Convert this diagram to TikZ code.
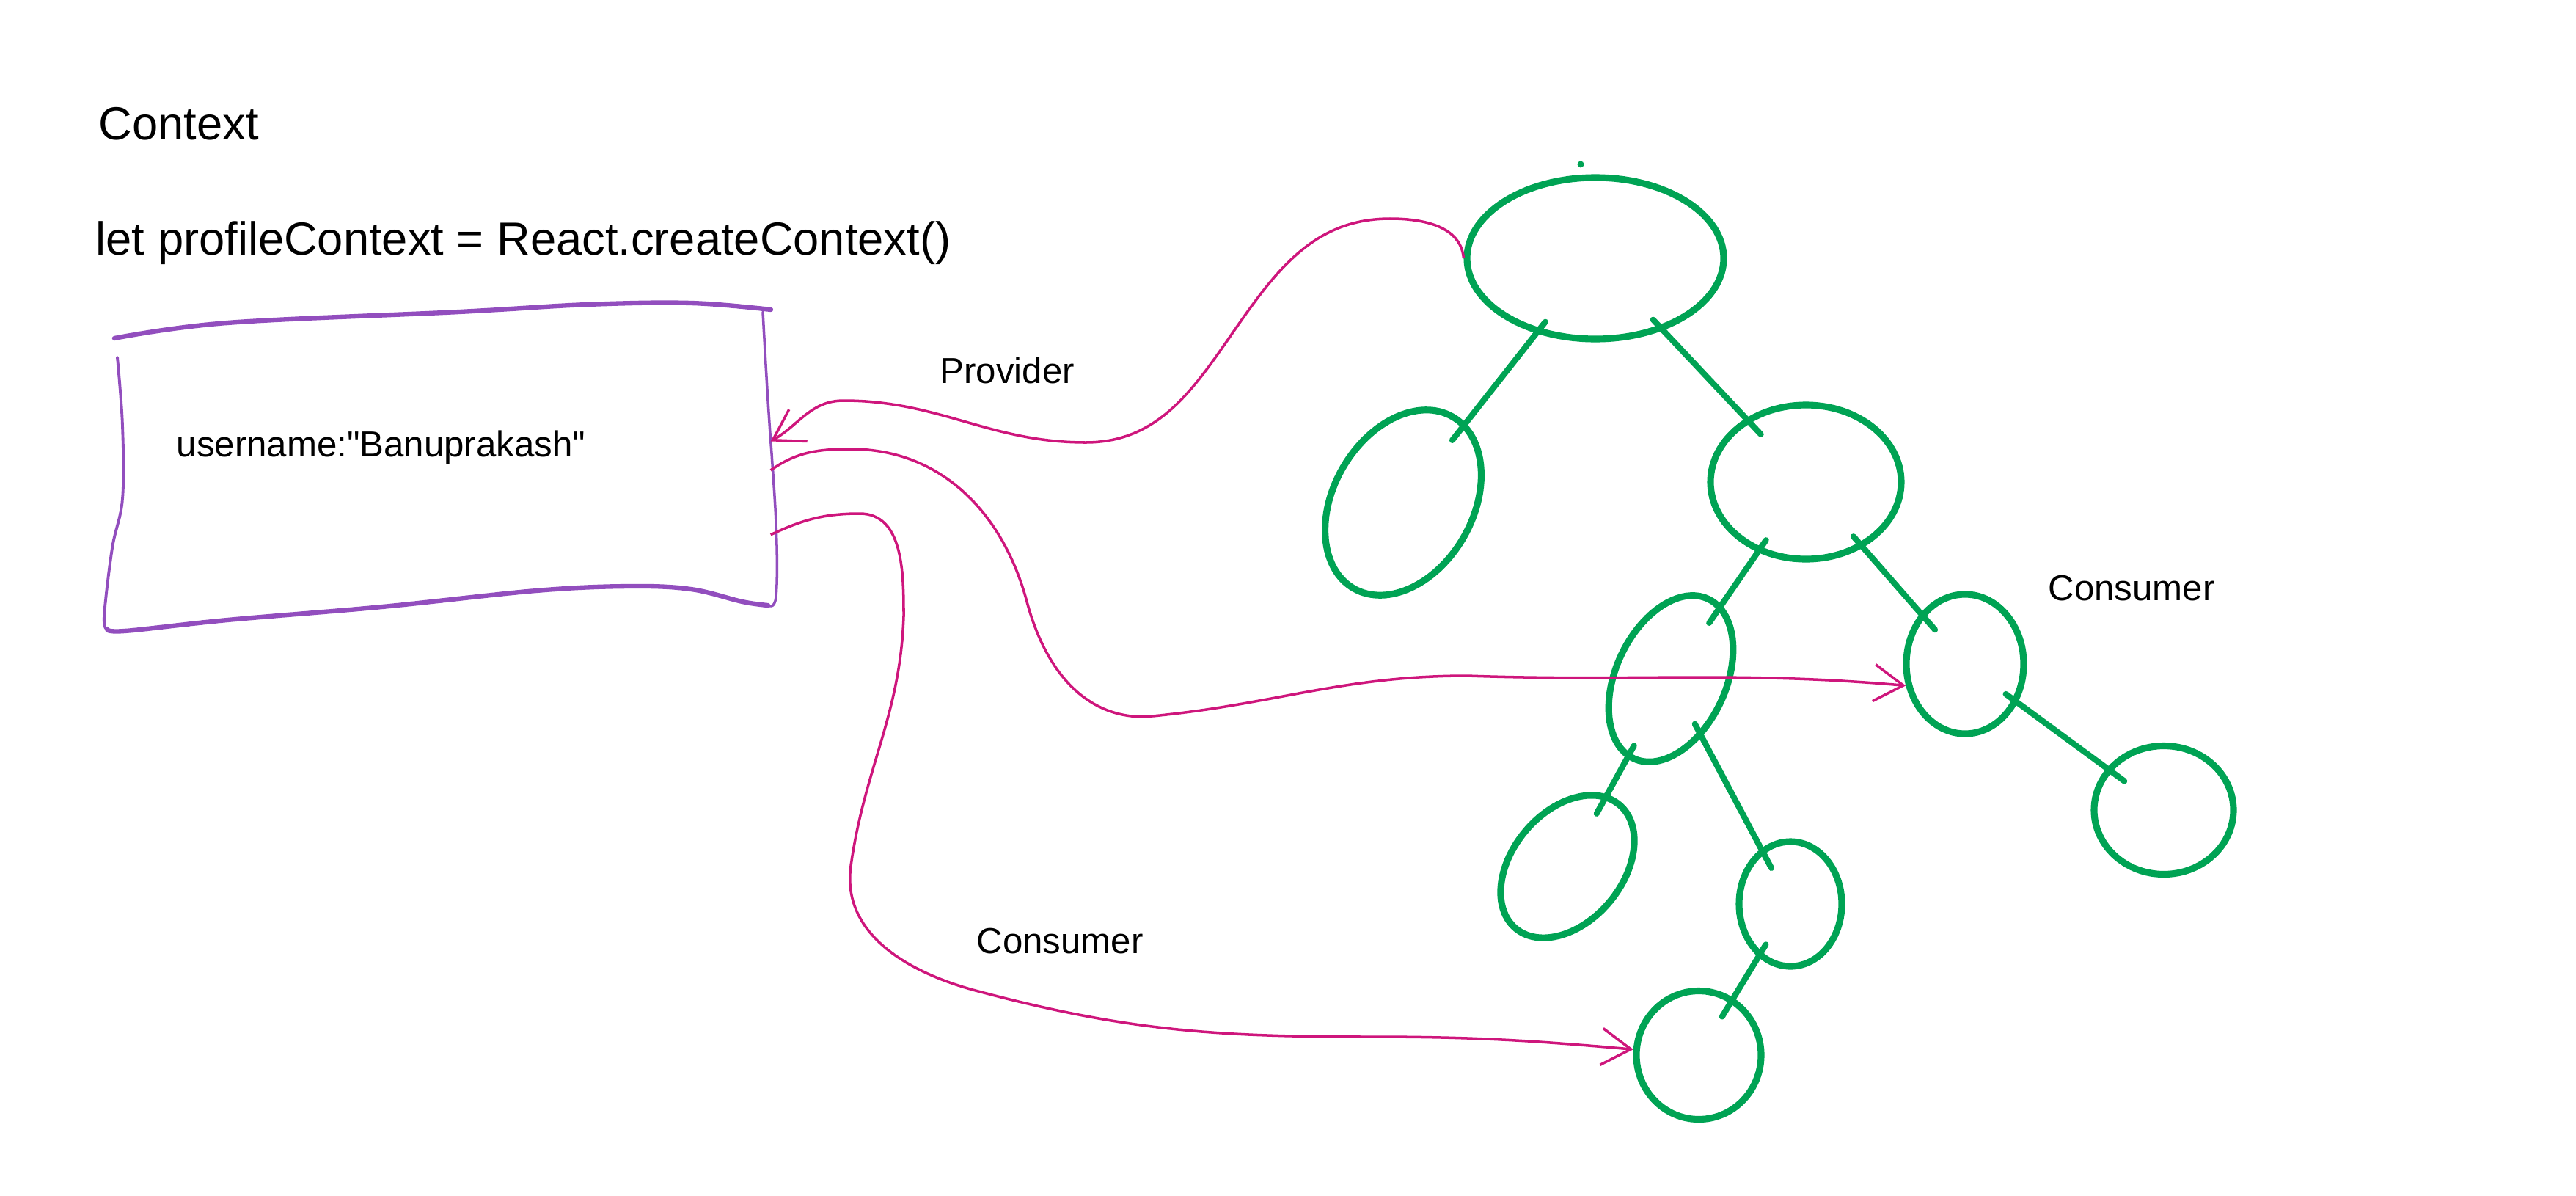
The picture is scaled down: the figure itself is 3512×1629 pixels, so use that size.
\documentclass[tikz,border=0pt]{standalone}
\usepackage{fontspec}
\setmainfont{Liberation Sans}[Ligatures=TeXOff]
\usetikzlibrary{shapes.geometric,arrows.meta}
\definecolor{treegreen}{RGB}{0,163,84}
\definecolor{ctxmagenta}{RGB}{206,22,124}
\definecolor{boxpurple}{RGB}{146,78,190}
\tikzset{
  treenode/.style={ellipse, draw=treegreen, line width=2.6pt, inner sep=0pt},
  treeedge/.style={treegreen, line width=2.3pt, line cap=round, shorten <=-2mm, shorten >=-3mm},
  flowarrow/.style={-{Straight Barb[length=4mm,width=5mm]}, ctxmagenta, line width=1pt},
  sketchlabel/.style={font=\fontsize{14}{16}\selectfont, inner sep=0pt, anchor=base west},
  headlabel/.style={sketchlabel, font=\fontsize{18}{20}\selectfont},
  boxedge/.style={boxpurple, line cap=round, line join=round},
}
\begin{document}
\begin{tikzpicture}[x=0.1mm,y=0.1mm]
  \useasboundingbox (0,0) rectangle (3512,-1629);

  % heading
  \node[headlabel] (title) at (134,-190) {Context};
  \node[headlabel] (decl) at (130,-347) {let profileContext = React.createContext()};

  % context value box
  \node[minimum width=90mm, minimum height=42mm, inner sep=0pt] (store) at (600,-633) {};
  \draw[boxedge, line width=1.8pt] plot[smooth, tension=0.6] coordinates
    {(156,-461) (310,-440) (626,-425) (801,-415) (942,-413) (1051,-422)};
  \draw[boxedge, line width=1pt] plot[smooth, tension=0.6] coordinates
    {(1040,-425) (1047,-547) (1058,-713) (1058,-813) (1047,-825)};
  \draw[boxedge, line width=1.8pt] plot[smooth, tension=0.6] coordinates
    {(1047,-825) (1012,-820) (942,-803) (858,-799) (731,-805) (521,-827) (310,-845) (170,-860) (146,-857)};
  \draw[boxedge, line width=1.1pt] plot[smooth, tension=0.6] coordinates
    {(160,-487) (167,-580) (167,-680) (153,-747) (142,-840) (146,-857)};
  \node[sketchlabel] (uname) at (240,-622) {username:"Banuprakash"};

  % component tree
  \fill[treegreen] (2155,-224) circle[radius=0.45mm];
  \node[treenode, minimum width=35mm, minimum height=22mm] (root) at (2175,-352) {};
  \node[treenode, minimum width=27mm, minimum height=19mm, rotate=60] (lchild) at (1913,-685) {};
  \node[treenode, minimum width=26mm, minimum height=21mm] (rchild) at (2462,-657) {};
  \node[treenode, minimum width=24mm, minimum height=15mm, rotate=65] (rl) at (2278,-925) {};
  \node[treenode, minimum width=16mm, minimum height=19mm] (rr) at (2679,-905) {};
  \node[treenode, minimum width=19mm, minimum height=17.5mm] (rrr) at (2950,-1104) {};
  \node[treenode, minimum width=22mm, minimum height=15mm, rotate=50] (rll) at (2137,-1181) {};
  \node[treenode, minimum width=14mm, minimum height=17mm] (rlr) at (2441,-1232) {};
  \node[treenode, minimum width=17mm, minimum height=17.5mm] (rlrl) at (2316,-1438) {};

  \draw[treeedge] (root) -- (lchild);
  \draw[treeedge] (root) -- (rchild);
  \draw[treeedge] (rchild) -- (rl);
  \draw[treeedge] (rchild) -- (rr);
  \draw[treeedge] (rr) -- (rrr);
  \draw[treeedge] (rl) -- (rll);
  \draw[treeedge] (rl) -- (rlr);
  \draw[treeedge] (rlr) -- (rlrl);

  % provider / consumer arrows
  \draw[flowarrow] (root.west) to[out=95,in=0] (1895,-298) to[out=180,in=55] (1690,-440)
    to[out=235,in=0] (1480,-603) to[out=180,in=0] (1150,-546) to[out=180,in=30] (store.4);
  \node[sketchlabel] (provlbl) at (1281,-522) {Provider};

  \draw[flowarrow] (store.-1) to[out=35,in=180] (1160,-612) to[out=0,in=105] (1400,-820)
    to[out=-75,in=180] (1560,-977) to[out=5,in=180] (2000,-921) to[out=-2,in=175] (rr.200);
  \node[sketchlabel] (conslbl) at (2792,-818) {Consumer};

  \draw[flowarrow] (store.-12) to[out=25,in=180] (1172,-700) to[out=0,in=90] (1232,-840)
    to[out=-92,in=82] (1160,-1180) to[out=-98,in=165] (1330,-1350)
    to[out=-15,in=180] (1868,-1413) to[out=0,in=175] (rlrl.175);
  \node[sketchlabel] (conslbl2) at (1331,-1299) {Consumer};
\end{tikzpicture}
\end{document}
